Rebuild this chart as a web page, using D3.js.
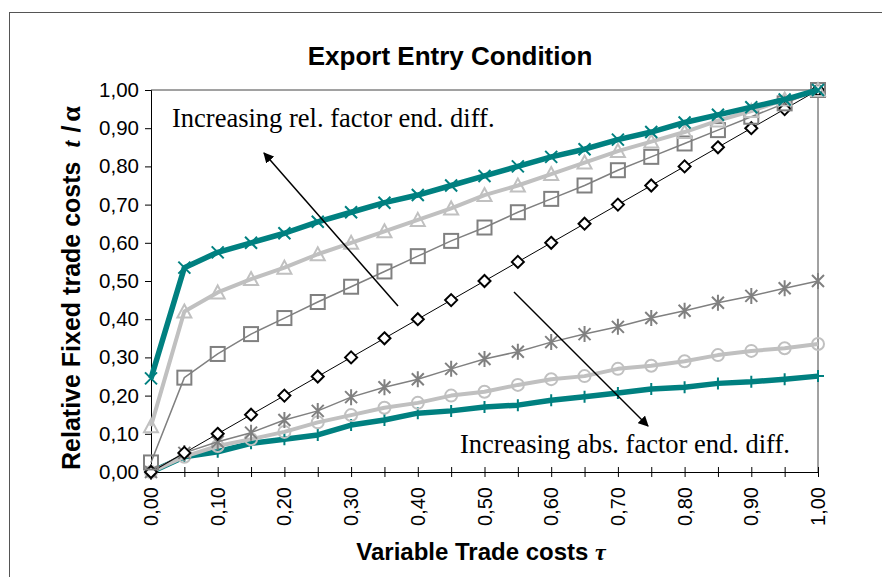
<!DOCTYPE html>
<html>
<head>
<meta charset="utf-8">
<script src="https://cdn.jsdelivr.net/npm/d3@7"></script>
<style>
  body { margin: 0; background: #fff; }
  svg { font-family: "Liberation Sans", Arial, sans-serif; }
</style>
</head>
<body>
<script>
// variable trade costs tau, one point every 0.05
let tau = [0, 0.05, 0.10, 0.15, 0.20, 0.25, 0.30, 0.35, 0.40, 0.45, 0.50,
           0.55, 0.60, 0.65, 0.70, 0.75, 0.80, 0.85, 0.90, 0.95, 1.00];

// values
let tealX   = [0.245, 0.535, 0.575, 0.60, 0.625, 0.655, 0.68, 0.705, 0.725, 0.75, 0.775,
               0.80, 0.825, 0.845, 0.87, 0.89, 0.915, 0.935, 0.955, 0.975, 1.00];
let grayTri = [0.12, 0.42, 0.47, 0.505, 0.535, 0.57, 0.60, 0.63, 0.66, 0.69, 0.725,
               0.75, 0.78, 0.81, 0.84, 0.865, 0.89, 0.92, 0.945, 0.975, 1.00];
let graySq  = [0.025, 0.247, 0.309, 0.361, 0.403, 0.445, 0.485, 0.525, 0.565, 0.605, 0.64,
               0.68, 0.715, 0.75, 0.79, 0.825, 0.86, 0.895, 0.93, 0.965, 1.00];
let diag    = [0, 0.05, 0.10, 0.15, 0.20, 0.25, 0.30, 0.35, 0.40, 0.45, 0.50,
               0.55, 0.60, 0.65, 0.70, 0.75, 0.80, 0.85, 0.90, 0.95, 1.00];
let grayAst = [0, 0.05, 0.079, 0.103, 0.136, 0.16, 0.196, 0.222, 0.243, 0.27, 0.296,
               0.315, 0.34, 0.361, 0.38, 0.403, 0.422, 0.443, 0.461, 0.481, 0.50];
let grayCirc= [0, 0.04, 0.068, 0.086, 0.105, 0.13, 0.149, 0.168, 0.181, 0.20, 0.21,
               0.228, 0.243, 0.251, 0.27, 0.278, 0.29, 0.306, 0.317, 0.324, 0.335];
let tealPlus= [0, 0.04, 0.053, 0.075, 0.086, 0.097, 0.123, 0.136, 0.154, 0.16, 0.17,
               0.175, 0.188, 0.197, 0.207, 0.217, 0.222, 0.232, 0.236, 0.243, 0.251];

let yTicks = [0, 0.1, 0.2, 0.3, 0.4, 0.5, 0.6, 0.7, 0.8, 0.9, 1.0];
let xTicks = [0, 0.1, 0.2, 0.3, 0.4, 0.5, 0.6, 0.7, 0.8, 0.9, 1.0];

let teal = "#008080", light = "#c0c0c0", mid = "#808080";
let serif = "'Liberation Serif', 'Times New Roman', serif";

// drawn bottom first, top last
let series = [
  {vals: tealPlus, color: teal,  width: 5.5, marker: "plus"},
  {vals: grayCirc, color: light, width: 4,   marker: "circle"},
  {vals: grayAst,  color: mid,   width: 1.5, marker: "star"},
  {vals: diag,     color: "#000",width: 1,   marker: "diamond"},
  {vals: graySq,   color: mid,   width: 1.5, marker: "square"},
  {vals: grayTri,  color: light, width: 4,   marker: "triangle"},
  {vals: tealX,    color: teal,  width: 5.5, marker: "cross"}
];

let fmt = d => d3.format(".2f")(d).replace(".", ",");

let svg = d3.select("body").append("svg")
  .attr("width", 882)
  .attr("height", 577);

// outer frame
svg.append("rect")
  .attr("x", 9.5).attr("y", 12.5)
  .attr("width", 900).attr("height", 600)
  .attr("fill", "none").attr("stroke", "#555").attr("stroke-width", 1);

let xScale = d3.scaleLinear().domain([0, 1]).range([151, 818]);
let yScale = d3.scaleLinear().domain([0, 1]).range([472, 90]);

// plot area top/right border
svg.append("path")
  .attr("d", `M${xScale(0)},${yScale(1)}H${xScale(1)}V${yScale(0)}`)
  .attr("fill", "none").attr("stroke", "#444").attr("stroke-width", 1);

// title
svg.append("text")
  .attr("x", 450).attr("y", 65)
  .attr("text-anchor", "middle")
  .style("font-size", "26px").style("font-weight", "bold")
  .text("Export Entry Condition");

// y axis
let yAxis = d3.axisLeft(yScale).tickValues(yTicks).tickFormat(fmt).tickSize(6).tickPadding(6);
let gy = svg.append("g").attr("transform", `translate(${xScale(0)},0)`).call(yAxis);
gy.select(".domain").attr("stroke", "#000");
gy.selectAll("text").style("font-size", "20.5px").style("font-family", "'Liberation Sans', Arial").attr("fill", "#000");

// x axis: minor ticks every 0.05 crossing the line
let xAxis = d3.axisBottom(xScale).tickValues(tau).tickFormat("").tickSizeInner(5).tickSizeOuter(0);
let gx = svg.append("g").attr("transform", `translate(0,${yScale(0)})`).call(xAxis);
gx.select(".domain").attr("stroke", "#000");
gx.selectAll(".tick line").attr("y1", -5).attr("y2", 5);

svg.selectAll(".xlab")
  .data(xTicks).enter().append("text")
    .attr("class", "xlab")
    .attr("transform", d => `translate(${xScale(d) + 7},487) rotate(-90)`)
    .attr("text-anchor", "end")
    .style("font-size", "20px")
    .text(fmt);

// axis titles
svg.append("text")
  .attr("transform", "translate(80,470) rotate(-90)")
  .attr("text-anchor", "start")
  .style("font-size", "25px").style("font-weight", "bold")
  .call(t => {
    t.append("tspan").text("Relative Fixed trade costs");
    t.append("tspan").attr("dx", 14).style("font-style", "italic").style("font-family", serif).text("t");
    t.append("tspan").attr("dx", 8).text("/");
    t.append("tspan").attr("dx", 4).style("font-family", serif).style("font-size", "28px").text("α");
  });

svg.append("text")
  .attr("x", 481).attr("y", 560)
  .attr("text-anchor", "middle")
  .style("font-size", "24px").style("font-weight", "bold")
  .call(t => {
    t.append("tspan").text("Variable Trade costs ");
    t.append("tspan").style("font-style", "italic").style("font-family", serif).text("τ");
  });

// lines and markers
let line = d3.line()
  .x((d, i) => xScale(tau[i]))
  .y(d => yScale(d));

function marker(g, type, color) {
  let s = 6;
  if (type == "square") {
    g.append("rect").attr("x", -s - 1).attr("y", -s - 1).attr("width", 2 * s + 2).attr("height", 2 * s + 2)
      .attr("fill", "none").attr("stroke", color).attr("stroke-width", 2);
  } else if (type == "triangle") {
    g.append("path").attr("d", `M0,${-s - 1}L${s + 1},${s}L${-s - 1},${s}Z`)
      .attr("fill", "none").attr("stroke", color).attr("stroke-width", 2);
  } else if (type == "diamond") {
    g.append("path").attr("d", `M0,${-s}L${s},0L0,${s}L${-s},0Z`)
      .attr("fill", "#fff").attr("stroke", color).attr("stroke-width", 2);
  } else if (type == "circle") {
    g.append("circle").attr("r", s)
      .attr("fill", "none").attr("stroke", color).attr("stroke-width", 2);
  } else if (type == "star") {
    g.append("path").attr("d", `M${-s},${-s}L${s},${s}M${-s},${s}L${s},${-s}M0,${-s - 2}V${s + 2}`)
      .attr("stroke", color).attr("stroke-width", 2);
  } else if (type == "cross") {
    g.append("path").attr("d", `M${-s},${-s}L${s},${s}M${-s},${s}L${s},${-s}`)
      .attr("stroke", color).attr("stroke-width", 2);
  } else if (type == "plus") {
    g.append("path").attr("d", `M0,${-s}V${s}M${-s},0H${s}`)
      .attr("stroke", color).attr("stroke-width", 2);
  }
}

series.forEach(sr => {
  svg.append("path")
    .attr("d", line(sr.vals))
    .attr("fill", "none")
    .attr("stroke", sr.color)
    .attr("stroke-width", sr.width)
    .attr("stroke-linejoin", "round");
  svg.selectAll(null)
    .data(sr.vals).enter().append("g")
      .attr("transform", (d, i) => `translate(${xScale(tau[i])},${yScale(d)})`)
      .each(function () { marker(d3.select(this), sr.marker, sr.color); });
});

// annotations
svg.append("defs").append("marker")
  .attr("id", "head")
  .attr("viewBox", "0 0 10 10")
  .attr("refX", 9).attr("refY", 5)
  .attr("markerWidth", 7).attr("markerHeight", 7)
  .attr("orient", "auto")
  .append("path").attr("d", "M0,0L10,5L0,10Z").attr("fill", "#000");

svg.append("line")
  .attr("x1", 398).attr("y1", 306).attr("x2", 264).attr("y2", 153)
  .attr("stroke", "#000").attr("stroke-width", 1.5)
  .attr("marker-end", "url(#head)");
svg.append("line")
  .attr("x1", 514).attr("y1", 292).attr("x2", 648).attr("y2", 426)
  .attr("stroke", "#000").attr("stroke-width", 1.5)
  .attr("marker-end", "url(#head)");

svg.append("text")
  .attr("x", 172).attr("y", 127)
  .style("font-family", serif)
  .style("font-size", "26.5px")
  .text("Increasing rel. factor end. diff.");
svg.append("text")
  .attr("x", 460).attr("y", 453)
  .style("font-family", serif)
  .style("font-size", "26.5px")
  .text("Increasing abs. factor end. diff.");
</script>
</body>
</html>
